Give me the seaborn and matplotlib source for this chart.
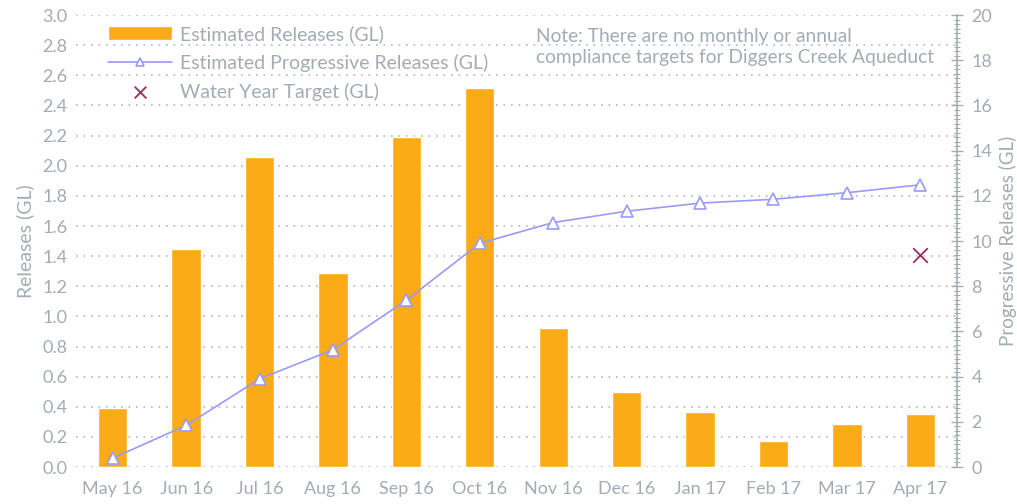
import matplotlib
matplotlib.use("Agg")
import matplotlib.pyplot as plt
import seaborn as sns
import pandas as pd
from matplotlib.ticker import MultipleLocator

# data
months = ["May 16", "Jun 16", "Jul 16", "Aug 16", "Sep 16", "Oct 16",
          "Nov 16", "Dec 16", "Jan 17", "Feb 17", "Mar 17", "Apr 17"]
releases = [0.39, 1.45, 2.06, 1.29, 2.19, 2.515, 0.92, 0.50, 0.365, 0.17, 0.285, 0.35]
progressive = [0.39, 1.84, 3.90, 5.19, 7.38, 9.90, 10.82, 11.32, 11.68, 11.85, 12.14, 12.49]
target_month = ["Apr 17"]
target_value = [9.4]

grey = "#a3abb3"
orange = "#fbab18"
lavender = "#9a9af8"
maroon = "#9b2c5c"

sns.set_theme(style="white")
plt.rcParams["font.family"] = ["Lato", "DejaVu Sans"]
plt.rcParams["text.color"] = grey
plt.rcParams["axes.labelcolor"] = grey
plt.rcParams["xtick.color"] = grey
plt.rcParams["ytick.color"] = grey

df = pd.DataFrame({"month": months, "releases": releases, "progressive": progressive})
df_t = pd.DataFrame({"month": target_month, "target": target_value})

fig = plt.figure(figsize=(10.17, 5.04), dpi=100)
ax = fig.add_axes([0.0747, 0.0734, 0.8663, 0.8966])

sns.barplot(data=df, x="month", y="releases", color=orange, saturation=1,
            width=0.4, ax=ax, label="Estimated Releases (GL)")
ax.set_ylim(0, 3.0)
ax.set_xlim(-0.5, 11.5)
ax.yaxis.set_major_locator(MultipleLocator(0.2))
ax.yaxis.grid(True, color="#b0b6bc", linestyle=(0, (1, 3.5)), linewidth=1.2)
ax.set_axisbelow(True)
ax.set_xlabel("")
ax.set_ylabel("Releases (GL)", fontsize=14, labelpad=6)
ax.tick_params(axis="both", length=0, labelsize=13)
ax.tick_params(axis="x", pad=10)
ax.tick_params(axis="y", pad=6)
for s in ax.spines.values():
    s.set_visible(False)

ax2 = ax.twinx()
sns.lineplot(data=df, x="month", y="progressive", color=lavender, linewidth=1.2,
             marker="^", markersize=8, markerfacecolor="white",
             markeredgecolor=lavender, markeredgewidth=1.2, ax=ax2,
             label="Estimated Progressive Releases (GL)")
sns.scatterplot(data=df_t, x="month", y="target", marker="x", s=110, color=maroon,
                linewidth=1.3, ax=ax2, label="Water Year Target (GL)")
ax2.set_ylim(0, 20)
ax2.set_xlim(-0.5, 11.5)
ax2.yaxis.set_major_locator(MultipleLocator(2))
ax2.yaxis.set_minor_locator(MultipleLocator(0.2))
ax2.tick_params(axis="y", which="major", direction="inout", length=9, width=1,
                labelsize=13, pad=6, color=grey)
ax2.tick_params(axis="y", which="minor", direction="inout", length=4, width=0.8, color=grey)
ax2.set_ylabel("Progressive Releases (GL)", fontsize=13.5, labelpad=5)
for name, s in ax2.spines.items():
    s.set_visible(name == "right")
ax2.spines["right"].set_color(grey)
ax2.spines["right"].set_linewidth(1.2)

h1, l1 = ax.get_legend_handles_labels()
h2, l2 = ax2.get_legend_handles_labels()
if ax.get_legend():
    ax.get_legend().remove()
leg = ax2.legend(h1 + h2, l1 + l2, loc="upper left", bbox_to_anchor=(0.027, 0.995),
                 frameon=False, fontsize=14, handlelength=3.3, handletextpad=0.45,
                 labelspacing=0.55, borderaxespad=0, markerscale=0.8)
for t in leg.get_texts():
    t.set_color(grey)

ax2.text(0.522, 0.972, "Note: There are no monthly or annual\ncompliance targets for Diggers Creek Aqueduct",
         transform=ax2.transAxes, ha="left", va="top", fontsize=13.8, color=grey,
         linespacing=1.3)

fig.savefig("out.png", dpi=100)
